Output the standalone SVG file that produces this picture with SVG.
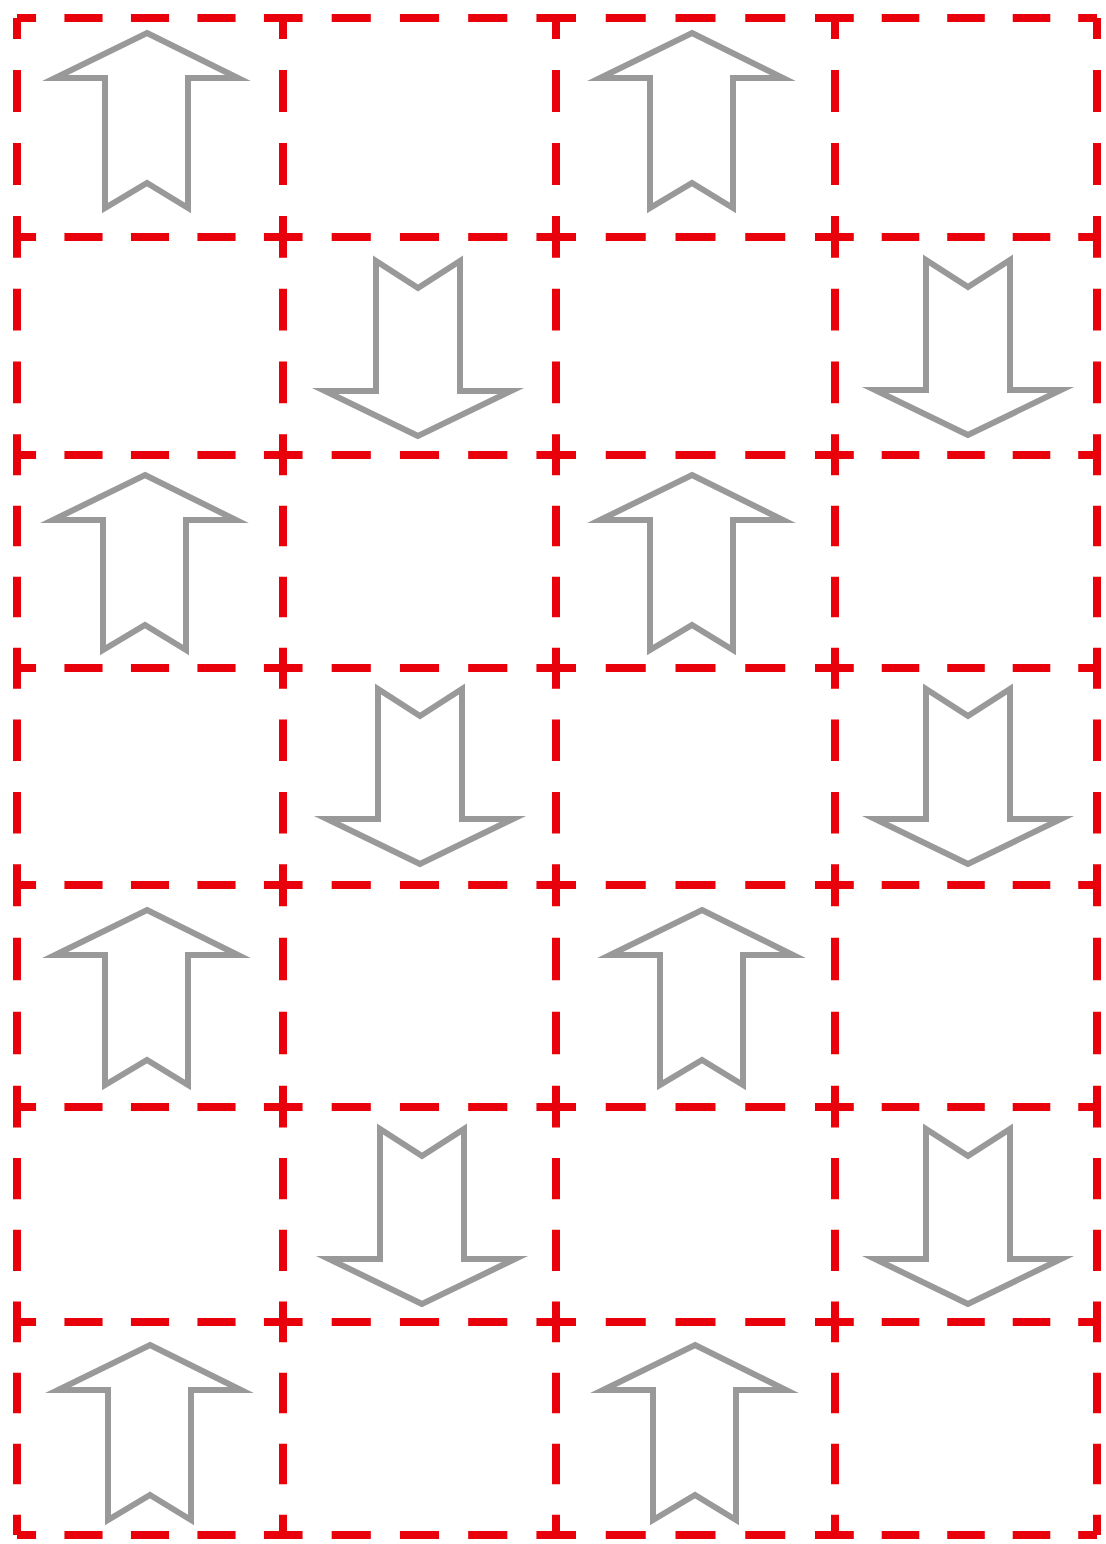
<svg xmlns="http://www.w3.org/2000/svg" width="1106" height="1544" viewBox="0 0 1106 1544">
<style>
.h,.v{fill:none;stroke:#e8000a;stroke-width:8;stroke-dasharray:43 32;stroke-dashoffset:21.5;}
.arr{fill:#fff;stroke:#999;stroke-width:6;stroke-linejoin:miter;stroke-miterlimit:10;}
</style>
<defs>
<path id="up" d="M0,0 L91,45 L41,45 L41,175 L0,150 L-42,175 L-42,45 L-92,45 Z"/>
<path id="down" d="M0,0 L-93,-45 L-42,-45 L-42,-175 L0,-148 L42,-175 L42,-45 L93,-45 Z"/>
</defs>
<rect width="1106" height="1544" fill="#fff"/>
<g id="grid">
<path class="h" pathLength="300" d="M17,18 H283"/><path class="h" pathLength="300" d="M283,18 H556"/><path class="h" pathLength="300" d="M556,18 H835"/><path class="h" pathLength="300" d="M835,18 H1097"/>
<path class="h" pathLength="300" d="M17,237 H283"/><path class="h" pathLength="300" d="M283,237 H556"/><path class="h" pathLength="300" d="M556,237 H835"/><path class="h" pathLength="300" d="M835,237 H1097"/>
<path class="h" pathLength="300" d="M17,455 H283"/><path class="h" pathLength="300" d="M283,455 H556"/><path class="h" pathLength="300" d="M556,455 H835"/><path class="h" pathLength="300" d="M835,455 H1097"/>
<path class="h" pathLength="300" d="M17,668 H283"/><path class="h" pathLength="300" d="M283,668 H556"/><path class="h" pathLength="300" d="M556,668 H835"/><path class="h" pathLength="300" d="M835,668 H1097"/>
<path class="h" pathLength="300" d="M17,885 H283"/><path class="h" pathLength="300" d="M283,885 H556"/><path class="h" pathLength="300" d="M556,885 H835"/><path class="h" pathLength="300" d="M835,885 H1097"/>
<path class="h" pathLength="300" d="M17,1107 H283"/><path class="h" pathLength="300" d="M283,1107 H556"/><path class="h" pathLength="300" d="M556,1107 H835"/><path class="h" pathLength="300" d="M835,1107 H1097"/>
<path class="h" pathLength="300" d="M17,1322 H283"/><path class="h" pathLength="300" d="M283,1322 H556"/><path class="h" pathLength="300" d="M556,1322 H835"/><path class="h" pathLength="300" d="M835,1322 H1097"/>
<path class="h" pathLength="300" d="M17,1535 H283"/><path class="h" pathLength="300" d="M283,1535 H556"/><path class="h" pathLength="300" d="M556,1535 H835"/><path class="h" pathLength="300" d="M835,1535 H1097"/>

<path class="v" pathLength="225" d="M17,18 V237"/><path class="v" pathLength="225" d="M17,237 V455"/><path class="v" pathLength="225" d="M17,455 V668"/><path class="v" pathLength="225" d="M17,668 V885"/><path class="v" pathLength="225" d="M17,885 V1107"/><path class="v" pathLength="225" d="M17,1107 V1322"/><path class="v" pathLength="225" d="M17,1322 V1535"/>
<path class="v" pathLength="225" d="M283,18 V237"/><path class="v" pathLength="225" d="M283,237 V455"/><path class="v" pathLength="225" d="M283,455 V668"/><path class="v" pathLength="225" d="M283,668 V885"/><path class="v" pathLength="225" d="M283,885 V1107"/><path class="v" pathLength="225" d="M283,1107 V1322"/><path class="v" pathLength="225" d="M283,1322 V1535"/>
<path class="v" pathLength="225" d="M556,18 V237"/><path class="v" pathLength="225" d="M556,237 V455"/><path class="v" pathLength="225" d="M556,455 V668"/><path class="v" pathLength="225" d="M556,668 V885"/><path class="v" pathLength="225" d="M556,885 V1107"/><path class="v" pathLength="225" d="M556,1107 V1322"/><path class="v" pathLength="225" d="M556,1322 V1535"/>
<path class="v" pathLength="225" d="M835,18 V237"/><path class="v" pathLength="225" d="M835,237 V455"/><path class="v" pathLength="225" d="M835,455 V668"/><path class="v" pathLength="225" d="M835,668 V885"/><path class="v" pathLength="225" d="M835,885 V1107"/><path class="v" pathLength="225" d="M835,1107 V1322"/><path class="v" pathLength="225" d="M835,1322 V1535"/>
<path class="v" pathLength="225" d="M1097,18 V237"/><path class="v" pathLength="225" d="M1097,237 V455"/><path class="v" pathLength="225" d="M1097,455 V668"/><path class="v" pathLength="225" d="M1097,668 V885"/><path class="v" pathLength="225" d="M1097,885 V1107"/><path class="v" pathLength="225" d="M1097,1107 V1322"/><path class="v" pathLength="225" d="M1097,1322 V1535"/>
</g>
<g id="arrows">
<g id="r1c1"><use href="#up" class="arr" x="147" y="33"/></g>
<g id="r1c3"><use href="#up" class="arr" x="692" y="33"/></g>
<g id="r2c2"><use href="#down" class="arr" x="418" y="436"/></g>
<g id="r2c4"><use href="#down" class="arr" x="968" y="435"/></g>
<g id="r3c1"><use href="#up" class="arr" x="145" y="475"/></g>
<g id="r3c3"><use href="#up" class="arr" x="692" y="475"/></g>
<g id="r4c2"><use href="#down" class="arr" x="420" y="864"/></g>
<g id="r4c4"><use href="#down" class="arr" x="968" y="864"/></g>
<g id="r5c1"><use href="#up" class="arr" x="147" y="910"/></g>
<g id="r5c3"><use href="#up" class="arr" x="702" y="910"/></g>
<g id="r6c2"><use href="#down" class="arr" x="422" y="1304"/></g>
<g id="r6c4"><use href="#down" class="arr" x="968" y="1304"/></g>
<g id="r7c1"><use href="#up" class="arr" x="150" y="1345"/></g>
<g id="r7c3"><use href="#up" class="arr" x="695" y="1345"/></g>
</g>
<g id="connectors"/>
</svg>
